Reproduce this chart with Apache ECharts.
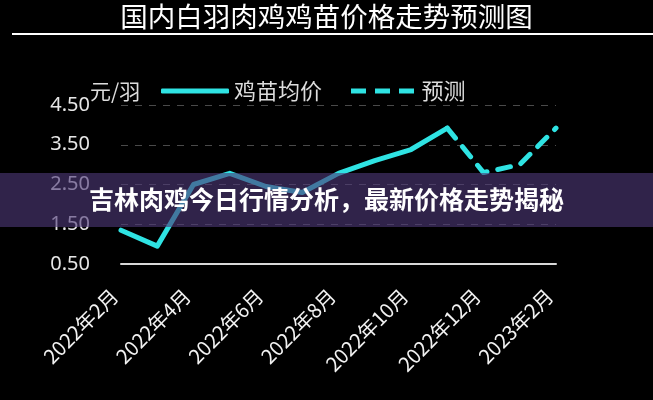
<!DOCTYPE html>
<html>
<head>
<meta charset="utf-8">
<script src="https://cdn.jsdelivr.net/npm/echarts@6/dist/echarts.min.js"></script>
<style>
html,body{margin:0;padding:0;background:#000;}
#c{width:653px;height:400px;}
</style>
</head>
<body>
<div id="c"></div>
<script>
var titleText = '国内白羽肉鸡鸡苗价格走势预测图';
var bannerText = '吉林肉鸡今日行情分析，最新价格走势揭秘';
var unitName = '元/羽';
var categories = ['2022年2月','2022年3月','2022年4月','2022年5月','2022年6月','2022年7月','2022年8月','2022年9月','2022年10月','2022年11月','2022年12月','2023年1月','2023年2月'];
var actualName = '鸡苗均价';
var forecastName = '预测';
var actualValues = [1.35, 0.95, 2.5, 2.78, 2.45, 2.3, 2.78, 3.1, 3.38, 3.92, null, null, null];
var forecastValues = [null, null, null, null, null, null, null, null, null, 3.92, 2.8, 3.0, 3.92];
var yMin = 0.5, yMax = 4.5, yStep = 1;

var font = '"Noto Sans CJK SC", "Noto Sans", sans-serif';
var cyan = '#2fe3e3';
var chart = echarts.init(document.getElementById('c'));
chart.setOption({
  backgroundColor: '#000',
  animation: false,
  title: {
    text: titleText,
    left: 'center',
    top: -2,
    textStyle: {color: '#fff', fontSize: 27.5, fontWeight: 'normal', fontFamily: font}
  },
  legend: {
    left: 156, top: 75,
    itemWidth: 68, itemHeight: 5, itemGap: 29,
    data: [
      {name: actualName, icon: 'roundRect', itemStyle: {color: cyan}},
      {name: forecastName, icon: 'path://M0,0h15v5h-15z M24,0h15v5h-15z M48,0h15v5h-15z', itemStyle: {color: cyan}}
    ],
    textStyle: {color: '#ddd', fontSize: 22, fontFamily: font}
  },
  grid: {left: 121, right: 97, top: 105, bottom: 136},
  xAxis: {
    type: 'category',
    data: categories,
    boundaryGap: false,
    axisLine: {show: true, lineStyle: {color: '#d8d8d8', width: 2}},
    axisTick: {show: false},
    splitLine: {show: false},
    axisLabel: {interval: 1, rotate: 45, margin: 22, padding: [0, 9, 0, 0], color: '#f2f2f2', fontSize: 20, fontFamily: font}
  },
  yAxis: {
    type: 'value',
    min: yMin, max: yMax, interval: yStep,
    axisLine: {show: false},
    axisTick: {show: false},
    axisLabel: {margin: 31, color: '#e6e6e6', fontSize: 20, fontFamily: '"Noto Sans", sans-serif',
      formatter: function (v) { return v.toFixed(2); }},
    splitLine: {show: true, lineStyle: {color: '#4a4a4a', type: [7, 7], width: 1}}
  },
  series: [{
    name: actualName,
    type: 'line',
    data: actualValues,
    symbol: 'none',
    lineStyle: {color: cyan, width: 5, cap: 'round', join: 'round'},
    itemStyle: {color: cyan},
    z: 3
  }, {
    name: forecastName,
    type: 'line',
    data: forecastValues,
    symbol: 'none',
    lineStyle: {color: cyan, width: 5, type: [13, 11], cap: 'round', join: 'round'},
    itemStyle: {color: cyan},
    z: 3
  }],
  graphic: [{
    type: 'text',
    left: 90,
    top: 81,
    style: {text: unitName, fill: '#ddd', font: '21px "Noto Sans CJK SC", sans-serif'},
    z: 40
  }, {
    type: 'line',
    shape: {x1: 12, y1: 34, x2: 653, y2: 34},
    style: {stroke: '#fff', lineWidth: 2},
    z: 50
  }, {
    type: 'rect',
    shape: {x: 0, y: 173, width: 653, height: 54},
    style: {fill: 'rgba(78,56,120,0.62)'},
    z: 100
  }, {
    type: 'text',
    left: 'center',
    top: 187,
    style: {text: bannerText, fill: '#fff', font: 'bold 25px "Noto Sans CJK SC", sans-serif',
      shadowColor: 'rgba(0,0,0,0.6)', shadowBlur: 4},
    z: 101
  }]
});
</script>
</body>
</html>
